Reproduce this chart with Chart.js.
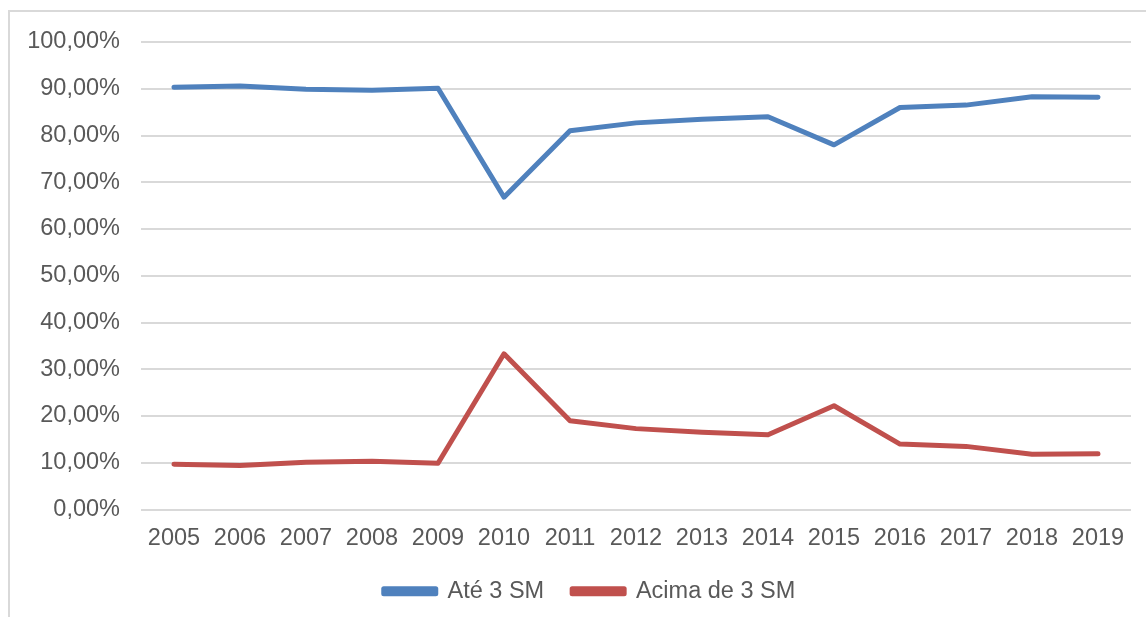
<!DOCTYPE html>
<html>
<head>
<meta charset="utf-8">
<script src="https://cdn.jsdelivr.net/npm/chart.js@4"></script>
<style>
  body { margin: 0; background: #fff; }
  #wrap { position: absolute; left: 0; top: 0; width: 1146px; height: 617px; }
  #frame { position: absolute; left: 8px; top: 10px; width: 1138px; height: 607px;
           border-left: 2px solid #d9d9d9; border-top: 2px solid #d9d9d9; box-sizing: border-box; }
</style>
</head>
<body>
<div id="wrap">
  <div id="frame"></div>
  <canvas id="chart" width="1146" height="617"></canvas>
</div>
<script>
// Anos (eixo x)
const years = ['2005', '2006', '2007', '2008', '2009', '2010', '2011', '2012',
               '2013', '2014', '2015', '2016', '2017', '2018', '2019'];

// Percentuais
const ate3SM = [90.3, 90.6, 89.9, 89.7, 90.1, 66.8, 81.0, 82.7, 83.5, 84.0, 78.0, 86.0, 86.5, 88.3, 88.2];
const acima3SM = [9.7, 9.4, 10.1, 10.3, 9.9, 33.3, 19.0, 17.3, 16.5, 16.0, 22.2, 14.0, 13.5, 11.8, 11.9];

const textColor = '#595959';
const fontFamily = '"Liberation Sans", Arial, sans-serif';
const fontSize = 23.5;

function formatPercent(value) {
    return value.toFixed(2).replace('.', ',') + '%';
}

// Nudge the legend a bit right, as in the original
const legendShift = {
    id: 'legendShift',
    afterLayout(chart) {
        chart.legend.left += 19;
        chart.legend.right += 19;
    }
};

const ctx = document.getElementById('chart');
new Chart(ctx, {
    type: 'line',
    data: {
        labels: years,
        datasets: [
            {
                label: 'Até 3 SM',
                data: ate3SM,
                borderColor: '#4f81bd',
                backgroundColor: '#4f81bd',
                borderWidth: 5,
                pointRadius: 0,
                tension: 0,
                borderCapStyle: 'round',
                borderJoinStyle: 'round'
            },
            {
                label: 'Acima de 3 SM',
                data: acima3SM,
                borderColor: '#c0504d',
                backgroundColor: '#c0504d',
                borderWidth: 5,
                pointRadius: 0,
                tension: 0,
                borderCapStyle: 'round',
                borderJoinStyle: 'round'
            }
        ]
    },
    plugins: [legendShift],
    options: {
        responsive: false,
        animation: false,
        layout: {
            padding: { left: 10, right: 15, top: 42, bottom: 4 }
        },
        plugins: {
            legend: {
                position: 'bottom',
                labels: {
                    color: textColor,
                    font: { family: fontFamily, size: fontSize },
                    boxWidth: 52,
                    boxHeight: 5,
                    padding: 28
                }
            },
            tooltip: { enabled: false }
        },
        scales: {
            x: {
                offset: true,
                afterFit: (scale) => { scale.height = 42; },
                grid: { display: false, drawTicks: false },
                border: { display: false },
                ticks: {
                    color: textColor,
                    font: { family: fontFamily, size: fontSize },
                    padding: 15,
                    maxRotation: 0,
                    autoSkip: false
                }
            },
            y: {
                min: 0,
                max: 100,
                afterFit: (scale) => { scale.width = 131; },
                grid: { color: '#d9d9d9', lineWidth: 2, drawTicks: false },
                border: { display: false },
                ticks: {
                    stepSize: 10,
                    color: textColor,
                    font: { family: fontFamily, size: fontSize },
                    padding: 21,
                    callback: (value) => formatPercent(value)
                }
            }
        }
    }
});
</script>
</body>
</html>
